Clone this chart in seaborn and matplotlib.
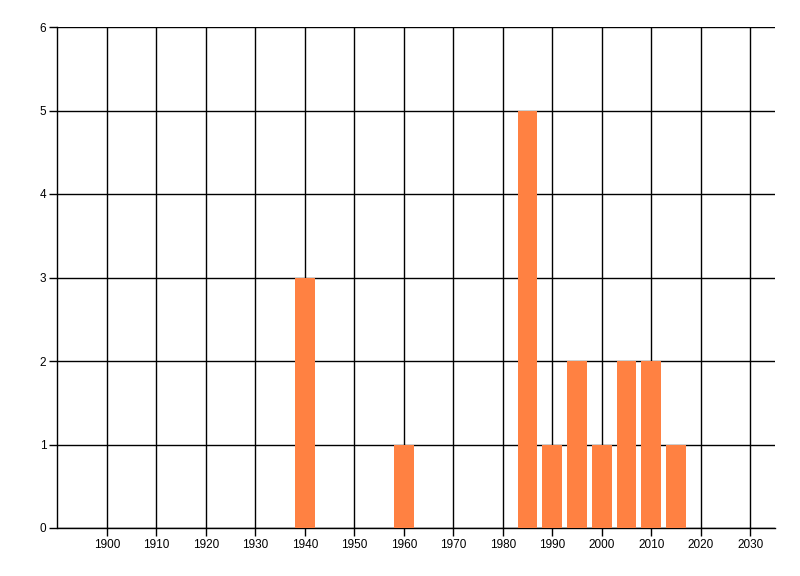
import matplotlib
matplotlib.use("Agg")
import matplotlib.pyplot as plt
import seaborn as sns
import pandas as pd

# bar data: year vs count
years = [1940, 1960, 1985, 1990, 1995, 2000, 2005, 2010, 2015]
counts = [3, 1, 5, 1, 2, 1, 2, 2, 1]
x_ticks = list(range(1900, 2031, 10))
y_ticks = [0, 1, 2, 3, 4, 5, 6]

df = pd.DataFrame({"year": years, "count": counts})

sns.set_style("white")
plt.rcParams['font.family'] = ['Liberation Sans', 'DejaVu Sans']

fig = plt.figure(figsize=(8, 5.76), dpi=100)
ax = fig.add_axes([57.5 / 800, 48 / 576, (775 - 57.5) / 800, (528 - 27) / 576])

sns.barplot(data=df, x="year", y="count", native_scale=True, width=0.8,
            color="#FF8142", saturation=1, edgecolor="none", linewidth=0,
            ax=ax, zorder=3)

ax.set_xlim(1890, 2035)
ax.set_ylim(0, 6)
ax.set_xticks(x_ticks)
ax.set_yticks(y_ticks)
ax.set_xticklabels([str(t) for t in x_ticks])
ax.set_yticklabels([str(t) for t in y_ticks])
ax.grid(True, color="black", linewidth=1.0, zorder=1)
ax.set_axisbelow(True)

for side in ["top", "right"]:
    ax.spines[side].set_visible(False)
for side in ["left", "bottom"]:
    ax.spines[side].set_color("black")
    ax.spines[side].set_linewidth(1.0)

ax.tick_params(axis="both", which="major", length=6, width=1.0, color="black",
               labelsize=8.5, labelcolor="black", bottom=True, left=True, pad=2)
ax.set_xlabel("")
ax.set_ylabel("")

fig.savefig("out.png", dpi=100)
